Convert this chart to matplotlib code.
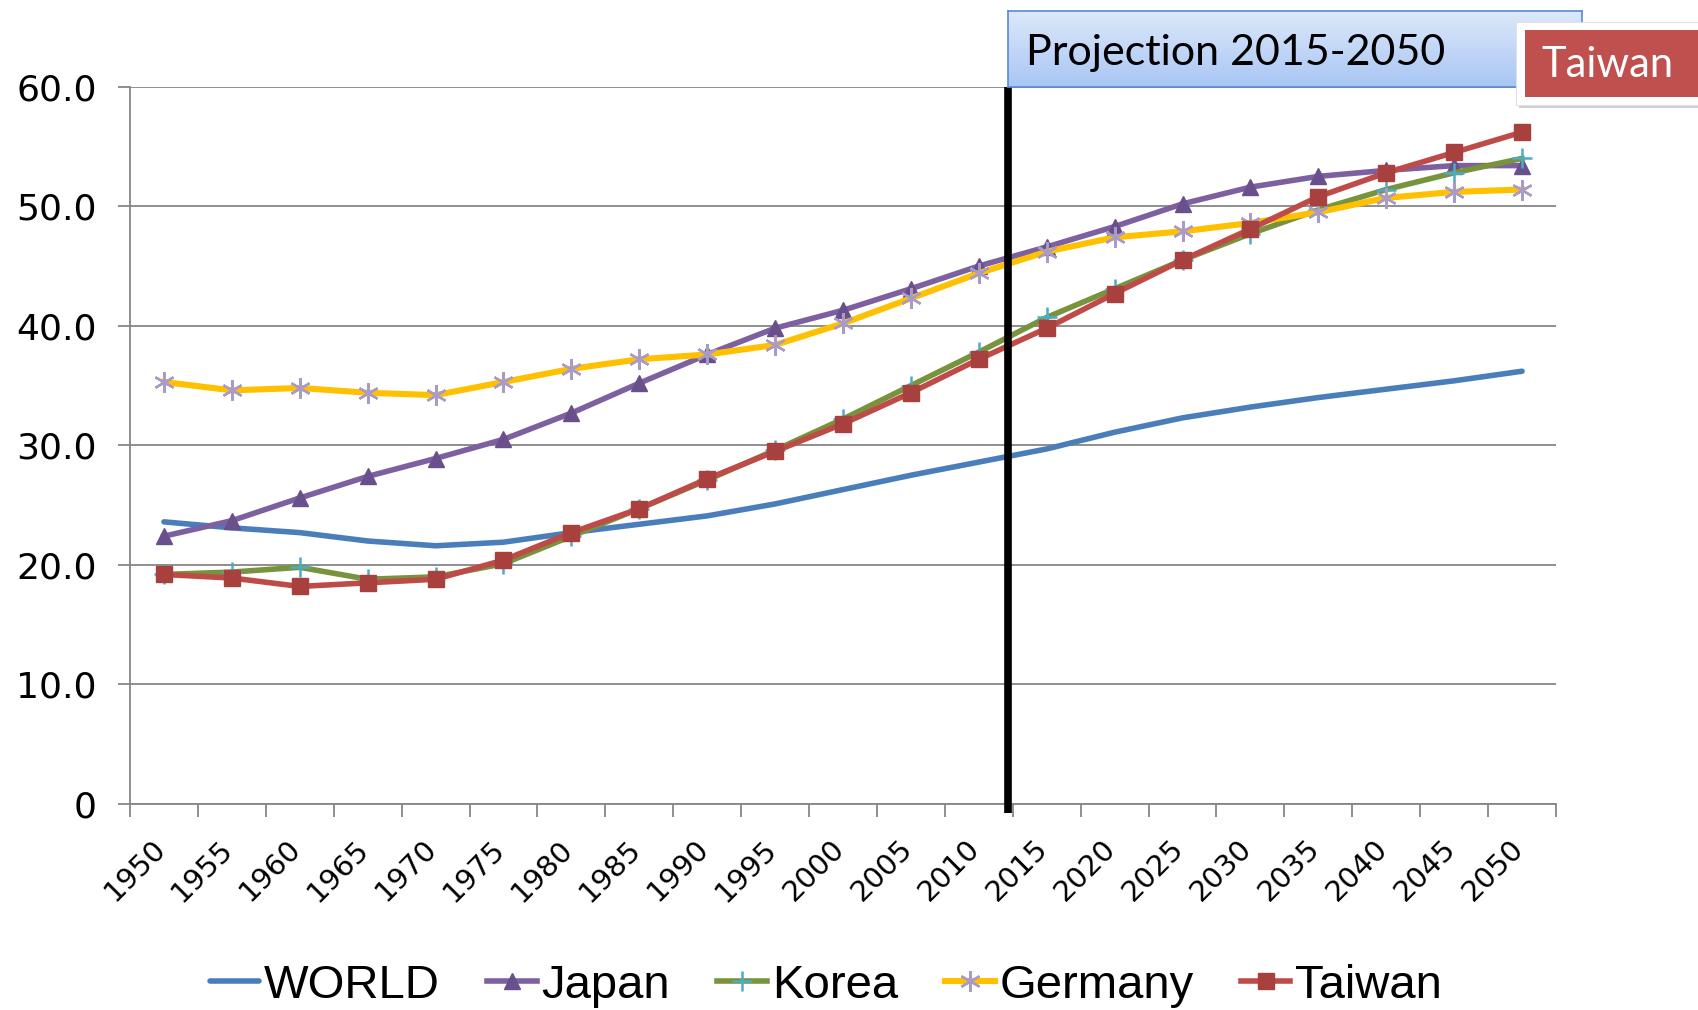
import numpy as np
import matplotlib
matplotlib.use("Agg")
import matplotlib.pyplot as plt
from matplotlib.patches import Rectangle
from matplotlib.colors import LinearSegmentedColormap
from matplotlib.transforms import ScaledTranslation

years = [1950, 1955, 1960, 1965, 1970, 1975, 1980, 1985, 1990, 1995, 2000,
         2005, 2010, 2015, 2020, 2025, 2030, 2035, 2040, 2045, 2050]
world = [23.6, 23.1, 22.7, 22.0, 21.6, 21.9, 22.7, 23.4, 24.1, 25.1, 26.3,
         27.5, 28.6, 29.7, 31.1, 32.3, 33.2, 34.0, 34.7, 35.4, 36.2]
japan = [22.4, 23.7, 25.6, 27.4, 28.9, 30.5, 32.7, 35.2, 37.6, 39.8, 41.3,
         43.1, 45.0, 46.6, 48.3, 50.2, 51.6, 52.5, 53.0, 53.4, 53.4]
korea = [19.2, 19.4, 19.8, 18.8, 19.0, 20.1, 22.4, 24.7, 27.1, 29.6, 32.2,
         35.0, 37.8, 40.7, 43.1, 45.5, 47.7, 49.7, 51.4, 52.8, 54.0]
germany = [35.3, 34.6, 34.8, 34.4, 34.2, 35.3, 36.4, 37.2, 37.6, 38.4, 40.2,
           42.3, 44.4, 46.2, 47.4, 47.9, 48.6, 49.5, 50.7, 51.2, 51.4]
taiwan = [19.2, 18.9, 18.2, 18.5, 18.8, 20.4, 22.7, 24.7, 27.2, 29.5, 31.8,
          34.4, 37.2, 39.8, 42.7, 45.5, 48.1, 50.8, 52.8, 54.5, 56.2]
yticks = [0, 10, 20, 30, 40, 50, 60]
ytick_labels = ["0", "10.0", "20.0", "30.0", "40.0", "50.0", "60.0"]
projection_label = "Projection 2015-2050"
badge_label = "Taiwan"

W, H = 1699, 1010
fig = plt.figure(figsize=(W / 100, H / 100), dpi=100)
fig.patch.set_facecolor("white")

def fx(px):
    return px / W

def fy(py):
    return 1 - py / H

ax = fig.add_axes([fx(130), fy(804), fx(1556) - fx(130), fy(86.7) - fy(804)])
x = np.arange(len(years))

grid_c = "#868686"
lw = 4.0
ax.plot(x, world, color="#4A7EBB", lw=lw, solid_capstyle="round", label="WORLD", zorder=3)
ax.plot(x, japan, color="#7D60A0", lw=lw, marker="^", ms=12, mfc="#6A4F8D", mec="#6A4F8D",
        label="Japan", zorder=3)
ax.plot(x, korea, color="#77933C", lw=lw, marker="+", ms=14, mew=1.8, mec="#4BACC6",
        label="Korea", zorder=3)
ax.plot(x, germany, color="#FFC000", lw=lw + 0.4, marker=(6, 2, 0), ms=15, mew=1.7,
        mec="#A99BC8", label="Germany", zorder=3)
ax.plot(x, taiwan, color="#BE4B48", lw=lw, marker="s", ms=11.5, mfc="#A8403D", mec="#A8403D",
        label="Taiwan", zorder=4)

ax.set_xlim(-0.5, len(years) - 0.5)
ax.set_ylim(0, 60)
ax.set_yticks(yticks)
ax.set_yticklabels(ytick_labels, fontsize=26, family="DejaVu Sans")
ax.yaxis.grid(True, color=grid_c, lw=1.3)
ax.set_axisbelow(True)
ax.tick_params(axis="y", length=9, width=1.3, color=grid_c, pad=15)

ax.set_xticks(x)
ax.set_xticklabels([str(y) for y in years], rotation=45, ha="right", va="top",
                   rotation_mode="default", fontsize=21, family="DejaVu Sans")
ax.tick_params(axis="x", which="major", length=0, pad=22)
shift = ScaledTranslation(7 / 100, 0, fig.dpi_scale_trans)
for lab in ax.get_xticklabels():
    lab.set_transform(lab.get_transform() + shift)
ax.set_xticks(np.arange(-0.5, len(years), 1.0), minor=True)
ax.tick_params(axis="x", which="minor", length=9, width=1.3, color=grid_c)

for s in ["top", "right"]:
    ax.spines[s].set_visible(False)
for s in ["left", "bottom"]:
    ax.spines[s].set_color(grid_c)
    ax.spines[s].set_linewidth(1.3)

# projection divider
ax.plot([12.43, 12.43], [60, -0.75], color="black", lw=5.5, clip_on=False, zorder=6,
        solid_capstyle="butt")

# projection box with gradient
bx0, by0, bx1, by1 = 1008, 11, 1582, 87
bax = fig.add_axes([fx(bx0), fy(by1), fx(bx1) - fx(bx0), fy(by0) - fy(by1)])
grad = np.linspace(0, 1, 100).reshape(-1, 1)
cmap = LinearSegmentedColormap.from_list("g", ["#DDE8FA", "#A8C6F4"])
bax.imshow(grad, aspect="auto", cmap=cmap, extent=[0, 1, 0, 1], origin="upper")
bax.set_xlim(0, 1)
bax.set_ylim(0, 1)
bax.set_xticks([])
bax.set_yticks([])
for s in bax.spines.values():
    s.set_color("#5B8BD0")
    s.set_linewidth(1.2)
fig.text(fx(1026), fy(53), projection_label, fontsize=31, family="Lato",
         ha="left", va="center", color="black")

# Taiwan badge
fig.add_artist(Rectangle((fx(1519), fy(108)), fx(1699) - fx(1519), fy(24) - fy(108),
                         transform=fig.transFigure, facecolor="#D0D0D0", edgecolor="none",
                         zorder=9))
fig.add_artist(Rectangle((fx(1516), fy(105)), fx(1699) - fx(1516), fy(22) - fy(105),
                         transform=fig.transFigure, facecolor="white", edgecolor="#E0E0E0",
                         lw=0.8, zorder=10))
fig.add_artist(Rectangle((fx(1525), fy(97)), fx(1699) - fx(1525), fy(30) - fy(97),
                         transform=fig.transFigure, facecolor="#C0504D", edgecolor="none",
                         zorder=11))
fig.text(fx(1541), fy(65), badge_label, fontsize=30, family="Lato", color="white",
         ha="left", va="center", zorder=12)

leg = fig.legend(loc="center", bbox_to_anchor=(fx(826), fy(986)), ncol=5, frameon=False,
                 prop={"family": "Liberation Sans", "size": 34},
                 handlelength=1.05, handletextpad=0.1, columnspacing=1.0,
                 borderaxespad=0)

fig.savefig("out.png", dpi=100, facecolor="white")
